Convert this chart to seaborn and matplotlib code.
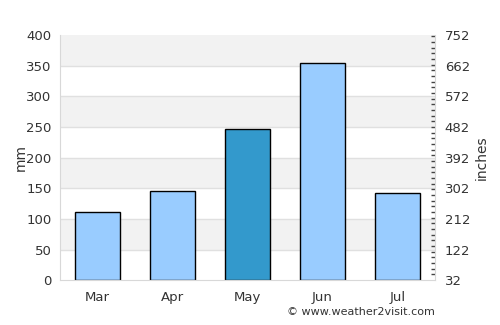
import pandas as pd
import matplotlib.pyplot as plt
import seaborn as sns
from matplotlib.ticker import MultipleLocator

# Monthly rainfall values (mm)
months = ['Mar', 'Apr', 'May', 'Jun', 'Jul']
rain_mm = [112, 145, 246, 354, 143]
highlight = ['no', 'no', 'yes', 'no', 'no']
inch_labels = ['32', '122', '212', '302', '392', '482', '572', '662', '752']

df = pd.DataFrame({'month': months, 'rain': rain_mm, 'hl': highlight})

sns.set_style('white')
plt.rcParams['font.family'] = ['DejaVu Sans']
text_col = '#333333'

fig = plt.figure(figsize=(5, 3.25), dpi=100)
ax = fig.add_axes([0.12, 0.138, 0.75, 0.754])

# alternating background bands
for i, lo in enumerate(range(0, 400, 50)):
    if i % 2 == 1:
        ax.axhspan(lo, lo + 50, color='#f2f2f2', zorder=0, lw=0)
for y in range(50, 400, 50):
    ax.axhline(y, color='#e0e0e0', lw=1, zorder=0.5)

sns.barplot(data=df, x='month', y='rain', hue='hl', palette={'no': '#99ccff', 'yes': '#3399cc'},
            saturation=1, dodge=False, width=0.6, edgecolor='black', linewidth=1,
            legend=False, ax=ax, zorder=2)

ax.set_ylim(0, 400)
ax.set_xlim(-0.5, 4.5)
ax.yaxis.set_major_locator(MultipleLocator(50))
ax.set_xlabel('')
ax.set_ylabel('mm', color=text_col, fontsize=10, labelpad=-1)
ax.tick_params(axis='both', colors=text_col, labelsize=9.5, length=0, pad=8)
ax.tick_params(axis='y', pad=6)
for s in ['top', 'right']:
    ax.spines[s].set_visible(False)
for s in ['left', 'bottom']:
    ax.spines[s].set_color('#d8d8d8')

# right axis in the same scale
ax2 = ax.twinx()
ax2.set_ylim(0, 400)
ax2.set_yticks(range(0, 401, 50))
ax2.set_yticklabels(inch_labels)
ax2.yaxis.set_minor_locator(MultipleLocator(9.25))
ax2.tick_params(axis='y', which='major', colors=text_col, labelsize=9.5, length=0, pad=7)
ax2.tick_params(axis='y', which='minor', color='#444444', length=3, width=1, direction='in')
ax2.set_ylabel('inches', color=text_col, fontsize=10, labelpad=3)
for s in ['top', 'left', 'bottom']:
    ax2.spines[s].set_visible(False)
ax2.spines['right'].set_color('#d8d8d8')

fig.text(0.87, 0.025, '© www.weather2visit.com', ha='right', va='bottom', fontsize=8, color=text_col)

plt.savefig('out.png', dpi=100)
